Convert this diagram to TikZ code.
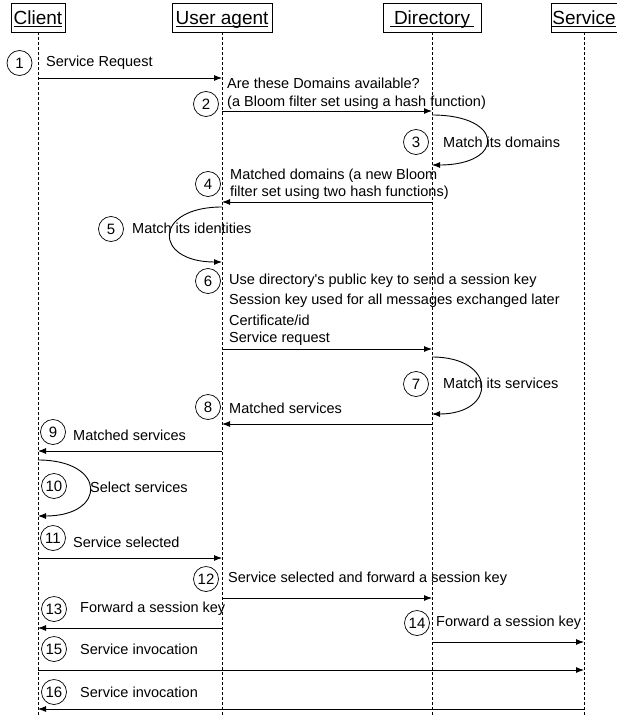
\documentclass[tikz,border=0pt]{standalone}
\usepackage{fontspec}
\setmainfont{Liberation Sans}
\usetikzlibrary{arrows.meta}

\newcommand{\hdrtext}[1]{\underline{\smash{#1}}}

\tikzset{
  Actor/.style={draw, line width=0.7pt, minimum height=29pt, inner sep=0pt,
    text height=17pt, text depth=2pt, font=\fontsize{19}{22}\selectfont},
  LifeLine/.style={line width=0.6pt, dash pattern=on 3pt off 2pt},
  Msg/.style={line width=0.9pt, -{Latex[length=8pt,width=6pt]}},
  StepNum/.style={draw, circle, line width=0.7pt, minimum size=25pt, inner sep=0pt,
    font=\fontsize{15}{17}\selectfont},
  MsgText/.style={anchor=west, inner sep=0pt, font=\fontsize{14.5}{17}\selectfont}
}

\begin{document}
\begin{tikzpicture}[x=1pt, y=-1pt]
            \useasboundingbox (0,0) rectangle (616,717);

            % actors and their life lines
            \node[Actor, minimum width=54pt] (client) at (38,17.5) {\hdrtext{Client}};
            \node[Actor, minimum width=100pt] (agent) at (222,17.5) {\hdrtext{User agent}};
            \node[Actor, minimum width=98pt] (dir) at (432,17.5) {\hdrtext{\hspace{4pt}Directory\hspace{4pt}}};
            \node[Actor, minimum width=66pt] (serv) at (584,17.5) {\hdrtext{Service}};

            \coordinate (bottom) at (0,717);
            \draw[LifeLine] (client) -- (client |- bottom);
            \draw[LifeLine] (agent) -- (agent |- bottom);
            \draw[LifeLine] (dir) -- (dir |- bottom);
            \draw[LifeLine] (serv) -- (serv |- bottom);

            % heights of the messages
            \coordinate (m1) at (0,78);
            \coordinate (m2) at (0,111);
            \coordinate (l3a) at (0,115);
            \coordinate (l3b) at (0,165);
            \coordinate (m4) at (0,202);
            \coordinate (l5a) at (0,207);
            \coordinate (l5b) at (0,262);
            \coordinate (m6) at (0,349);
            \coordinate (l7a) at (0,357);
            \coordinate (l7b) at (0,414);
            \coordinate (m8) at (0,424);
            \coordinate (m9) at (0,451);
            \coordinate (l10a) at (0,460);
            \coordinate (l10b) at (0,516);
            \coordinate (m11) at (0,558);
            \coordinate (m12) at (0,598);
            \coordinate (m13) at (0,628);
            \coordinate (m14) at (0,642);
            \coordinate (m15) at (0,670);
            \coordinate (m16) at (0,709);

            % step numbers
            \node[StepNum] (s1) at (19.5,63) {1};
            \node[StepNum] (s2) at (206,104) {2};
            \node[StepNum] (s3) at (416,142) {3};
            \node[StepNum] (s4) at (208,184) {4};
            \node[StepNum] (s5) at (111,229) {5};
            \node[StepNum] (s6) at (208,281) {6};
            \node[StepNum] (s7) at (416,384) {7};
            \node[StepNum] (s8) at (208,407) {8};
            \node[StepNum] (s9) at (53,432) {9};
            \node[StepNum] (s10) at (54,486) {10};
            \node[StepNum] (s11) at (53,538) {11};
            \node[StepNum] (s12) at (206,579) {12};
            \node[StepNum] (s13) at (54,609) {13};
            \node[StepNum] (s14) at (417,623) {14};
            \node[StepNum] (s15) at (54,649) {15};
            \node[StepNum] (s16) at (54,692) {16};

            % message texts
            \node[MsgText] (t1) at (46,63) {Service Request};
            \node[MsgText] (t2a) at (227,83) {Are these Domains available?};
            \node[MsgText] (t2b) at (227,103) {(a Bloom filter set using a hash function)};
            \node[MsgText] (t3) at (443,142) {Match its domains};
            \node[MsgText] (t4a) at (230,176) {Matched domains (a new Bloom};
            \node[MsgText] (t4b) at (230,193) {filter set using two hash functions)};
            \node[MsgText] (t5) at (132,228) {Match its identities};
            \node[MsgText] (t6a) at (229,281) {Use directory\textquotesingle s public key to send a session key};
            \node[MsgText] (t6b) at (229,301) {Session key used for all messages exchanged later};
            \node[MsgText] (t6c) at (229,320) {Certificate/id};
            \node[MsgText] (t6d) at (229,339) {Service request};
            \node[MsgText] (t7) at (443,383) {Match its services};
            \node[MsgText] (t8) at (229,408) {Matched services};
            \node[MsgText] (t9) at (73,435) {Matched services};
            \node[MsgText] (t10) at (90,487) {Select services};
            \node[MsgText] (t11) at (73,542) {Service selected};
            \node[MsgText] (t12) at (228,579) {Service selected and forward a session key};
            \node[MsgText] (t13) at (80,609) {Forward a session key};
            \node[MsgText] (t14) at (436,623) {Forward a session key};
            \node[MsgText] (t15) at (80,649) {Service invocation};
            \node[MsgText] (t16) at (80,692) {Service invocation};

            % messages
            \draw[Msg] (client |- m1) -- (agent |- m1);
            \draw[Msg] (agent |- m2) -- (dir |- m2);
            \draw[Msg] (dir |- l3a) .. controls +(73,0) and +(73,0) .. (dir |- l3b);
            \draw[Msg] (dir |- m4) -- (agent |- m4);
            \draw[Msg] (agent |- l5a) .. controls +(-69,0) and +(-69,0) .. (agent |- l5b);
            \draw[Msg] (agent |- m6) -- (dir |- m6);
            \draw[Msg] (dir |- l7a) .. controls +(65,0) and +(65,0) .. (dir |- l7b);
            \draw[Msg] (dir |- m8) -- (agent |- m8);
            \draw[Msg] (agent |- m9) -- (client |- m9);
            \draw[Msg] (client |- l10a) .. controls +(69,0) and +(69,0) .. (client |- l10b);
            \draw[Msg] (client |- m11) -- (agent |- m11);
            \draw[Msg] (agent |- m12) -- (dir |- m12);
            \draw[Msg] (agent |- m13) -- (client |- m13);
            \draw[Msg] (dir |- m14) -- (serv |- m14);
            \draw[Msg] (client |- m15) -- (serv |- m15);
            \draw[Msg] (serv |- m16) -- (client |- m16);
\end{tikzpicture}
\end{document}
